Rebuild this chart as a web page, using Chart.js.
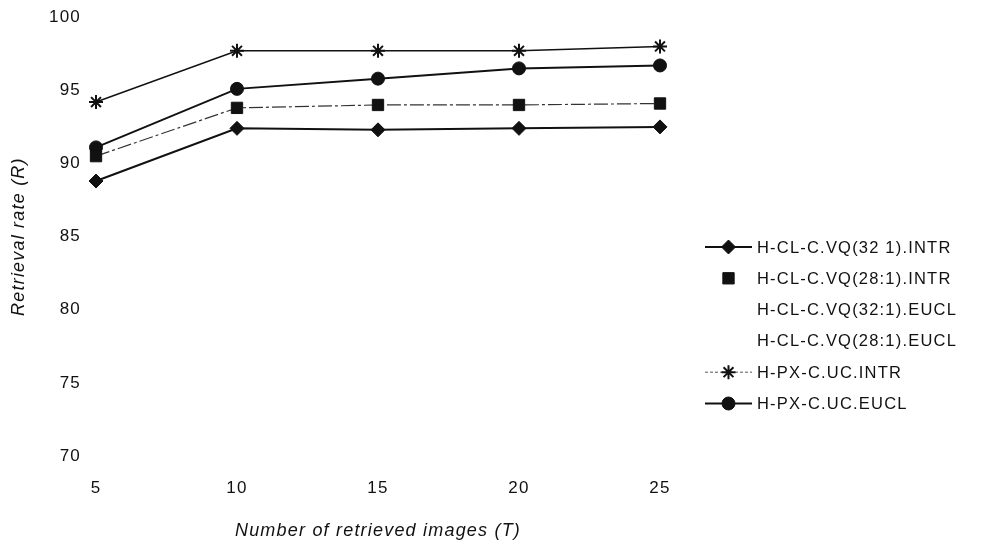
<!DOCTYPE html>
<html>
<head>
<meta charset="utf-8">
<script src="https://cdn.jsdelivr.net/npm/chart.js@4.4.1/dist/chart.umd.min.js"></script>
<style>
    html, body { margin: 0; padding: 0; background: #fff; }
    #wrap { width: 984px; height: 546px; }
</style>
</head>
<body>
<div id="wrap"><canvas id="retrievalChart"></canvas></div>
<script>
// Number of retrieved images (T)
const imageCounts = ["5", "10", "15", "20", "25"];

// Retrieval rate (R) per method
const clVq32Intr = [88.8, 92.4, 92.3, 92.4, 92.5];
const clVq28Intr = [90.5, 93.8, 94.0, 94.0, 94.1];
const clVq32Eucl = [];
const clVq28Eucl = [];
const pxUcIntr = [94.2, 97.7, 97.7, 97.7, 98.0];
const pxUcEucl = [91.1, 95.1, 95.8, 96.5, 96.7];

const yTicks = [70, 75, 80, 85, 90, 95, 100];

const FONT = "'Liberation Sans', Arial, sans-serif";
const SPACING = "1.2px";

// the old Helvetica lettering is a bit wider, so open up the letter spacing
const wideText = {
    id: "wideText",
    beforeLayout(chart) { chart.ctx.letterSpacing = SPACING; },
    beforeDraw(chart) { chart.ctx.letterSpacing = SPACING; }
};

// Legend drawn by hand on the right: short line with the marker, then the label
const sideLegend = {
    id: "sideLegend",
    afterDraw(chart) {
        const ctx = chart.ctx;
        const x0 = 705, x1 = 752, textX = 757;
        let y = 247;
        ctx.save();
        chart.data.datasets.forEach((ds) => {
            if (ds.legendLine) {
                ctx.beginPath();
                ctx.setLineDash(ds.legendDash || []);
                ctx.lineWidth = ds.legendLineWidth || ds.borderWidth;
                ctx.strokeStyle = ds.legendLineColor || ds.borderColor;
                ctx.moveTo(x0, y);
                ctx.lineTo(x1, y);
                ctx.stroke();
                ctx.setLineDash([]);
            }
            if (ds.legendMarker) {
                ctx.fillStyle = ds.pointBackgroundColor;
                ctx.strokeStyle = ds.pointBorderColor;
                ctx.lineWidth = ds.pointBorderWidth;
                Chart.helpers.drawPoint(ctx, {
                    pointStyle: ds.pointStyle,
                    radius: ds.pointRadius,
                    rotation: 0,
                    borderWidth: ds.pointBorderWidth
                }, (x0 + x1) / 2, y);
            }
            ctx.fillStyle = "#111";
            ctx.font = "16.5px " + FONT;
            ctx.letterSpacing = SPACING;
            ctx.textAlign = "left";
            ctx.textBaseline = "middle";
            ctx.fillText(ds.label, textX, y + 1);
            y += 31.3;
        });
        ctx.restore();
    }
};

const ctx = document.getElementById("retrievalChart").getContext("2d");

new Chart(ctx, {
    type: "line",
    data: {
        labels: imageCounts,
        datasets: [
            {
                label: "H-CL-C.VQ(32 1).INTR",
                data: clVq32Intr,
                borderColor: "#111",
                borderWidth: 2,
                pointStyle: "rectRot",
                pointRadius: 7,
                pointBackgroundColor: "#111",
                pointBorderColor: "#111",
                pointBorderWidth: 1,
                legendLine: true,
                legendMarker: true
            },
            {
                label: "H-CL-C.VQ(28:1).INTR",
                data: clVq28Intr,
                borderColor: "#333",
                borderWidth: 1.2,
                borderDash: [14, 3, 3, 3],
                pointStyle: "rect",
                pointRadius: 8,
                pointBackgroundColor: "#111",
                pointBorderColor: "#111",
                pointBorderWidth: 1,
                legendLine: false,
                legendMarker: true
            },
            {
                label: "H-CL-C.VQ(32:1).EUCL",
                data: clVq32Eucl,
                borderColor: "#fff",
                pointRadius: 0,
                legendLine: false,
                legendMarker: false
            },
            {
                label: "H-CL-C.VQ(28:1).EUCL",
                data: clVq28Eucl,
                borderColor: "#fff",
                pointRadius: 0,
                legendLine: false,
                legendMarker: false
            },
            {
                label: "H-PX-C.UC.INTR",
                data: pxUcIntr,
                borderColor: "#111",
                borderWidth: 1.5,
                pointStyle: "star",
                pointRadius: 7,
                pointBackgroundColor: "#111",
                pointBorderColor: "#111",
                pointBorderWidth: 2,
                legendLine: true,
                legendLineWidth: 1,
                legendLineColor: "#555",
                legendDash: [3, 2],
                legendMarker: true
            },
            {
                label: "H-PX-C.UC.EUCL",
                data: pxUcEucl,
                borderColor: "#111",
                borderWidth: 2,
                pointStyle: "circle",
                pointRadius: 6.5,
                pointBackgroundColor: "#111",
                pointBorderColor: "#111",
                pointBorderWidth: 1,
                legendLine: true,
                legendMarker: true
            }
        ]
    },
    options: {
        responsive: true,
        maintainAspectRatio: false,
        animation: false,
        layout: {
            padding: { top: 17, right: 324, bottom: 0, left: 0 }
        },
        plugins: {
            legend: { display: false },
            tooltip: { enabled: false }
        },
        elements: {
            line: { tension: 0, fill: false }
        },
        scales: {
            x: {
                offset: false,
                grid: { display: false },
                border: { display: false },
                ticks: {
                    color: "#111",
                    font: { family: FONT, size: 17 },
                    padding: 14,
                    maxRotation: 0
                },
                title: {
                    display: true,
                    text: "Number of retrieved images (T)",
                    color: "#111",
                    font: { family: FONT, size: 18, style: "italic" },
                    padding: { top: 14 }
                },
                afterFit(scale) { scale.height = 90; }
            },
            y: {
                min: 70,
                max: 100,
                afterBuildTicks(scale) {
                    scale.ticks = yTicks.map((v) => ({ value: v }));
                },
                grid: { display: false },
                border: { display: false },
                ticks: {
                    color: "#111",
                    font: { family: FONT, size: 17 },
                    padding: 7
                },
                title: {
                    display: true,
                    text: "Retrieval rate (R)",
                    color: "#111",
                    font: { family: FONT, size: 18, style: "italic" },
                    padding: { top: 8, bottom: 10 }
                },
                afterFit(scale) { scale.width = 96; }
            }
        }
    },
    plugins: [wideText, sideLegend]
});
</script>
</body>
</html>
